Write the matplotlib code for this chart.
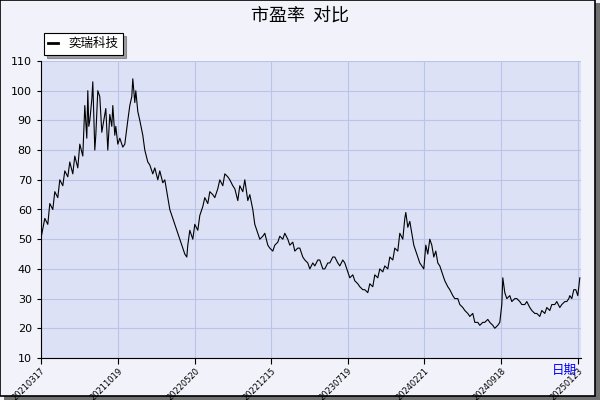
import matplotlib
matplotlib.use("Agg")
import matplotlib.pyplot as plt
from matplotlib.patches import Rectangle

plt.rcParams['font.family'] = ['Noto Sans CJK SC', 'DejaVu Sans']

xs = [41,45,48,50,53,55,58,60,63,65,68,70,73,75,78,80,83,85,87,88,89,90,92,93,95,96,98,100,102,104,106,108,110,112,113,115,116,118,120,123,125,128,130,132,133,135,136,138,140,143,145,148,150,153,155,158,160,163,165,168,170,173,175,178,180,183,185,187,188,190,193,195,198,200,203,205,208,210,213,215,218,220,223,225,228,230,233,235,238,240,243,245,248,250,253,255,258,260,263,265,268,270,273,275,278,280,283,285,288,290,293,295,298,300,303,305,308,310,313,315,318,320,323,325,328,330,333,335,338,340,343,345,348,350,353,355,358,360,363,365,368,370,373,375,378,380,383,385,388,390,393,395,398,400,403,405,406,408,410,412,414,416,418,420,422,424,426,428,430,432,434,436,438,440,443,445,448,450,453,455,458,460,463,465,468,470,473,475,478,480,483,485,488,490,493,495,498,500,502,503,505,507,510,512,515,517,520,522,525,527,530,532,535,537,540,542,545,547,550,552,555,557,560,562,565,567,569,570,572,574,576,578,580]
pe = [50,57,55,62,60,66,64,70,68,73,71,76,72,78,74,82,78,95,84,100,88,90,97,103,80,85,100,98,86,90,94,80,92,88,95,85,88,82,84,81,82,90,95,98,104,96,100,93,90,85,80,76,75,72,74,70,73,69,70,64,60,57,55,52,50,47,45,44,48,53,50,55,53,58,61,64,62,66,65,64,67,70,68,72,71,70,68,67,63,68,66,70,63,65,60,55,52,50,51,52,48,47,46,48,49,51,50,52,50,48,49,46,47,47,44,43,42,40,42,41,43,43,40,40,42,42,44,44,42,41,43,42,39,37,38,36,35,34,33,33,32,35,34,38,37,40,39,41,40,44,43,47,46,52,50,57,59,54,56,52,48,46,44,42,41,40,48,45,50,48,44,46,42,41,38,36,34,33,31,30,30,28,27,26,25,24,25,22,22,21,22,22,23,22,21,20,21,22,28,37,32,30,31,29,30,30,29,28,28,29,27,26,25,25,24,26,25,27,26,28,28,29,27,28,29,29,30,31,30,33,33,31,37]

tick_pos = [41,118,195,271,348,424,501,578]
tick_labels = ['20210317','20211019','20220520','20221215','20230719','20240221','20240918','20250123']

fig = plt.figure(figsize=(6,4), dpi=100, facecolor='#F2F2FA')
fig.patches.append(Rectangle((0.007,0.0), 0.993, 0.993, transform=fig.transFigure, facecolor='#707070', edgecolor='none', zorder=-2))
fig.patches.append(Rectangle((0.0,0.01), 0.992, 0.99, transform=fig.transFigure, facecolor='#F2F2FA', edgecolor='black', lw=1.2, zorder=-1))
ax = fig.add_axes([0.068, 0.105, 0.9, 0.7425])
ax.set_facecolor('#DCE1F5')
ax.plot(xs, pe, color='black', lw=0.8, label='奕瑞科技')
ax.set_xlim(41, 581)
ax.set_ylim(10, 110)
ax.set_yticks(range(10, 111, 10))
ax.set_xticks(tick_pos)
ax.set_xticklabels(tick_labels, rotation=45, ha='right', va='top', rotation_mode='anchor', fontsize=6, family='DejaVu Sans')
ax.tick_params(axis='y', labelsize=8, length=3)
ax.tick_params(axis='x', length=4, pad=2)
for lab in ax.get_yticklabels():
    lab.set_family('DejaVu Sans')
ax.grid(True, color='#B8C4EA', lw=0.8)
for s in ['top', 'right']:
    ax.spines[s].set_visible(False)
ax.spines['left'].set_color('black')
ax.spines['bottom'].set_color('black')
fig.text(0.5, 0.962, '市盈率  对比', ha='center', va='center', fontsize=13)
fig.text(0.94, 0.065, '日期', color='blue', fontsize=9, ha='center')
leg = fig.legend(loc='upper left', bbox_to_anchor=(0.063, 0.933), fontsize=9, fancybox=False, shadow=True, framealpha=1, edgecolor='black', handlelength=0.8, borderpad=0.35)
leg.get_frame().set_linewidth(0.8)
for l in leg.get_lines():
    l.set_linewidth(2)
fig.savefig('out.png', dpi=100, facecolor=fig.get_facecolor())
